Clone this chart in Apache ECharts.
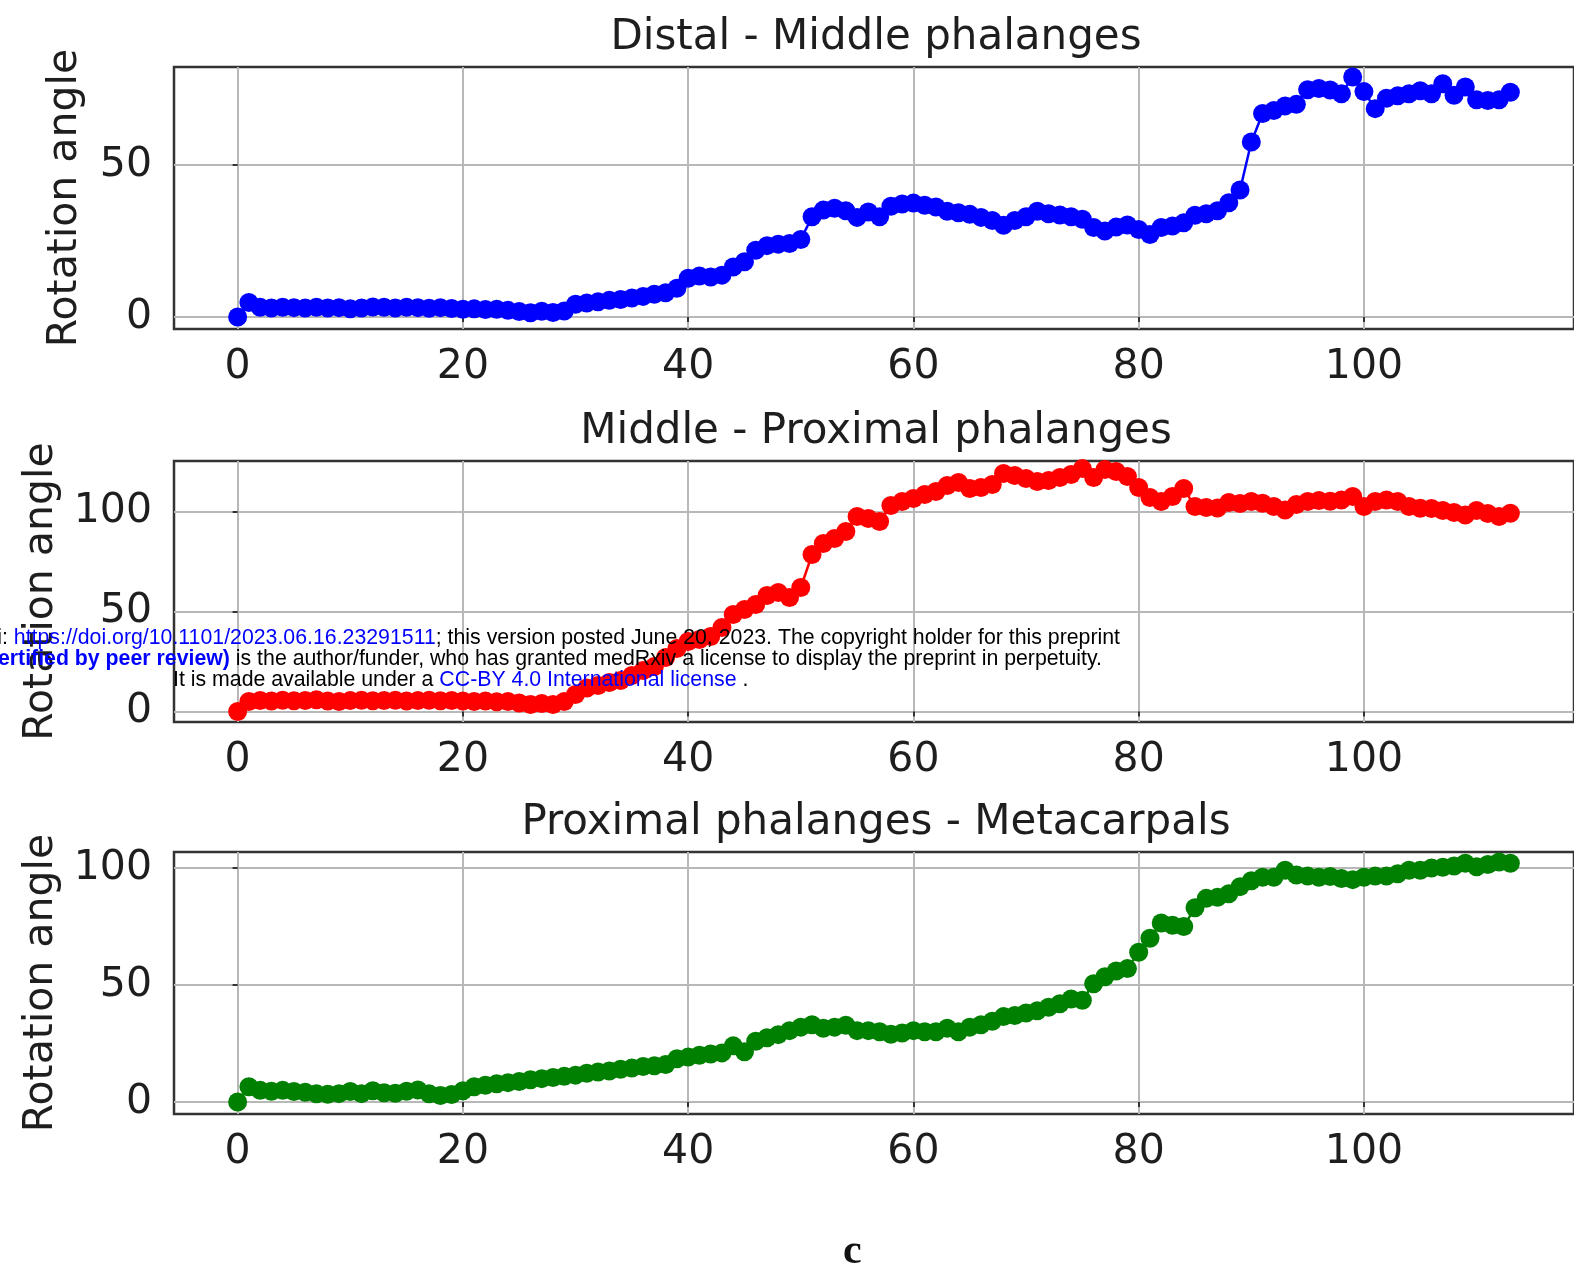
<!DOCTYPE html>
<html>
<head>
<meta charset="utf-8">
<script src="https://cdn.jsdelivr.net/npm/echarts@6/dist/echarts.min.js"></script>
<style>
html,body{margin:0;padding:0;background:#fff;}
#chart{width:1574px;height:1268px;}
</style>
</head>
<body>
<div id="chart"></div>
<script>
// ---- data ----
const titles = ["Distal - Middle phalanges", "Middle - Proximal phalanges", "Proximal phalanges - Metacarpals"];
const yAxisName = "Rotation angle";
const xTicks = [0, 20, 40, 60, 80, 100];
const yTicksTop = [0, 50];
const yTicksMid = [0, 50, 100];
const yTicksBot = [0, 50, 100];

const distalMiddle = [
  0, 4.8, 3.2, 3.0, 3.2, 3.1, 3.0, 3.2, 3.0, 3.1,
  2.7, 3.0, 3.3, 3.2, 3.0, 3.2, 3.1, 2.9, 3.1, 2.8,
  2.6, 2.7, 2.5, 2.6, 2.2, 1.8, 1.4, 1.9, 1.5, 2.0,
  4.2, 4.6, 5.0, 5.5, 5.8, 6.3, 6.8, 7.5, 8.0, 9.5,
  12.8, 13.5, 13.2, 13.8, 16.5, 18.2, 22.0, 23.5, 24.0, 24.2,
  25.5, 33.0, 35.2, 35.8, 35.0, 32.8, 34.6, 33.0, 36.5, 37.2,
  37.5, 36.8, 36.2, 34.8, 34.3, 33.8, 32.8, 31.8, 30.2, 31.8,
  33.0, 34.8, 34.0, 33.6, 33.0, 32.2, 29.5, 28.3, 29.6, 30.3,
  28.8, 27.2, 29.5, 30.0, 31.0, 33.5, 34.0, 35.0, 37.6, 41.8,
  57.6, 67.0, 68.0, 69.5, 70.0, 74.8, 75.2, 74.7, 73.5, 79.0,
  74.2, 68.6, 72.0, 72.8, 73.5, 74.5, 73.5, 76.8, 73.0, 75.7,
  71.5, 71.3, 71.5, 74.0
];
const middleProximal = [
  0, 5.0, 5.5, 5.2, 5.6, 5.3, 5.5, 5.8, 5.2, 5.0,
  5.4, 5.6, 5.3, 5.5, 5.6, 5.2, 5.4, 5.6, 5.3, 5.5,
  5.2, 5.0, 5.2, 4.8, 5.0, 4.2, 3.5, 4.0, 3.4, 5.0,
  8.5, 11.7, 13.0, 14.5, 15.5, 18.0, 20.5, 22.5, 27.0, 31.5,
  35.0, 36.0, 37.5, 42.0, 48.5, 51.0, 53.5, 58.0, 59.5, 57.0,
  62.0, 78.5, 84.0, 86.5, 90.0, 97.5, 96.5, 95.0, 103.0, 105.0,
  106.5, 108.5, 110.0, 113.0, 114.5, 111.5, 112.0, 113.5, 119.0, 118.0,
  116.5, 115.0, 115.5, 117.0, 118.5, 121.5, 117.0, 121.0, 120.0, 117.5,
  112.0, 107.0, 105.0, 107.5, 111.5, 102.5, 102.0, 101.8, 104.5, 104.0,
  105.0, 104.2, 102.5, 100.8, 103.5, 105.0, 105.5, 105.2, 105.8, 107.5,
  102.5, 105.0, 105.8, 105.0, 102.5, 101.7, 101.5, 100.5, 99.5, 98.3,
  100.5, 99.0, 97.5, 99.2
];
const proximalMetacarpal = [
  0, 6.5, 5.0, 4.6, 5.0, 4.5, 4.2, 3.5, 3.3, 3.6,
  4.5, 3.6, 4.8, 4.0, 3.8, 4.6, 5.2, 3.5, 2.8, 3.2,
  4.8, 6.5, 7.2, 7.8, 8.3, 8.8, 9.5, 10.0, 10.5, 11.0,
  11.5, 12.3, 12.8, 13.3, 14.0, 14.5, 15.2, 15.5, 16.0, 18.5,
  19.2, 20.0, 20.5, 21.0, 24.0, 21.5, 26.0, 27.5, 28.8, 30.5,
  32.0, 33.0, 31.5, 32.0, 32.8, 30.5, 30.5, 30.0, 29.0, 29.5,
  30.5, 30.0, 30.0, 31.5, 30.0, 32.0, 33.0, 34.5, 36.5, 37.0,
  38.0, 39.0, 40.5, 42.0, 44.0, 43.5, 50.5, 53.5, 56.0, 57.0,
  64.0, 70.0, 76.5, 75.5, 75.0, 83.0, 87.0, 87.5, 89.0, 92.0,
  94.5, 96.0, 96.0, 99.0, 97.0, 96.5, 96.0, 96.3, 95.5, 95.0,
  96.0, 96.5, 96.5, 97.5, 99.0, 99.0, 100.0, 100.3, 100.8, 102.0,
  100.5, 101.5, 102.5, 102.0
];
const seriesColors = ["#0000ff", "#ff0000", "#008000"];

// ---- chart ----
const FONT = "DejaVu Sans";
const TXT = "#1e1e1e";
const panels = [
  {top: 67, height: 262, min: -3.93, max: 82.3, ticks: yTicksTop, data: distalMiddle, nameGap: 88},
  {top: 461, height: 261, min: -5.3, max: 125.3, ticks: yTicksMid, data: middleProximal, nameGap: 112},
  {top: 852, height: 262, min: -5.1, max: 106.8, ticks: yTicksBot, data: proximalMetacarpal, nameGap: 112}
];
const GL = 174, GW = 1402;

const grids = [], xAxes = [], yAxes = [], series = [], titleOpts = [];
panels.forEach((p, i) => {
  grids.push({left: GL, top: p.top, width: GW, height: p.height, show: true,
    borderColor: "#333", borderWidth: 2.5, backgroundColor: "transparent"});
  xAxes.push({type: "value", gridIndex: i, min: -5.65, max: 118.65,
    axisLine: {show: false},
    axisTick: {show: true, inside: false, length: 5, customValues: xTicks, lineStyle: {color: "#333", width: 2}},
    axisLabel: {customValues: xTicks, fontFamily: FONT, fontSize: 41, color: TXT, margin: 18},
    splitLine: {show: true, lineStyle: {color: "#b8b8b8", width: 2}}});
  yAxes.push({type: "value", gridIndex: i, min: p.min, max: p.max,
    name: yAxisName, nameLocation: "middle", nameGap: p.nameGap, nameRotate: 90,
    nameTextStyle: {fontFamily: FONT, fontSize: 41, color: TXT},
    axisLine: {show: false},
    axisTick: {show: true, inside: false, length: 5, customValues: p.ticks, lineStyle: {color: "#333", width: 2}},
    axisLabel: {customValues: p.ticks, fontFamily: FONT, fontSize: 41, color: TXT, margin: 22},
    splitLine: {show: true, lineStyle: {color: "#b8b8b8", width: 2}}});
  series.push({type: "line", xAxisIndex: i, yAxisIndex: i,
    data: p.data.map((v, k) => [k, v]),
    symbol: "circle", symbolSize: 19, showSymbol: true,
    lineStyle: {color: seriesColors[i], width: 2.5},
    itemStyle: {color: seriesColors[i]},
    z: 3});
  titleOpts.push({text: titles[i], left: GL + GW / 2 - 4, textAlign: "center", top: p.top - 55,
    textStyle: {fontFamily: FONT, fontSize: 42, fontWeight: "normal", color: TXT}});
});

const WM = 21.3;
const chart = echarts.init(document.getElementById("chart"), null, {renderer: "canvas"});
chart.setOption({
  animation: false,
  backgroundColor: "#ffffff",
  title: titleOpts,
  grid: grids, xAxis: xAxes, yAxis: yAxes, series: series,
  graphic: [
    {type: "text", right: 1574 - 1120, top: 628, z: 100, style: {
      text: "{k|medRxiv preprint doi: }{b|https://doi.org/10.1101/2023.06.16.23291511}{k|; this version posted June 20, 2023. The copyright holder for this preprint}",
      rich: {k: {fill: "#000", fontFamily: "Liberation Sans", fontSize: WM},
             b: {fill: "#0000ff", fontFamily: "Liberation Sans", fontSize: WM}}}},
    {type: "text", right: 1574 - 1102, top: 649, z: 100, style: {
      text: "{bb|(which was not certified by peer review)}{k| is the author/funder, who has granted medRxiv a license to display the preprint in perpetuity.}",
      rich: {k: {fill: "#000", fontFamily: "Liberation Sans", fontSize: WM},
             bb: {fill: "#0000ff", fontFamily: "Liberation Sans", fontSize: WM, fontWeight: "bold"}}}},
    {type: "text", left: 173, top: 670, z: 100, style: {
      text: "{k|It is made available under a }{b|CC-BY 4.0 International license}{k| .}",
      rich: {k: {fill: "#000", fontFamily: "Liberation Sans", fontSize: WM},
             b: {fill: "#0000ff", fontFamily: "Liberation Sans", fontSize: WM}}}},
    {type: "text", left: 843, top: 1231, z: 100, style: {
      text: "c", fill: "#111", fontFamily: "Liberation Serif", fontSize: 42, fontWeight: "bold"}}
  ]
});
</script>
</body>
</html>
